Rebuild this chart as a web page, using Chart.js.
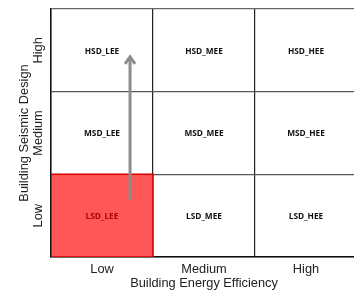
<!DOCTYPE html>
<html>
<head>
<meta charset="utf-8">
<script src="https://cdn.jsdelivr.net/npm/chart.js@4/dist/chart.umd.min.js"></script>
<style>
  html, body { margin: 0; padding: 0; background: #fff; overflow: hidden; width: 354px; height: 294px; }
  #wrap { width: 354px; height: 294px; overflow: hidden; position: relative; }
  #grid { display: block; position: absolute; left: 0; top: 0; }
</style>
</head>
<body>
<div id="wrap"><canvas id="grid" width="362" height="294"></canvas></div>
<script>
// categories on both axes
const energyLevels = ['Low', 'Medium', 'High'];
const seismicLevels = ['Low', 'Medium', 'High'];
const xTitle = 'Building Energy Efficiency';
const yTitle = 'Building Seismic Design';
// cell labels, bottom row first
const cellLabels = [
  ['LSD_LEE', 'LSD_MEE', 'LSD_HEE'],
  ['MSD_LEE', 'MSD_MEE', 'MSD_HEE'],
  ['HSD_LEE', 'HSD_MEE', 'HSD_HEE']
];
// highlighted cell (col, row)
const highlightCell = [0, 0];
// arrow in data units
const arrowX = [0.775, 0.775];
const arrowY = [0.69, 2.42];
const headX = [0.726, 0.775, 0.824];
const headY = [2.335, 2.42, 2.335];

const tickPos = [0, 0.5, 1, 1.5, 2, 2.5, 3];
const isLine = v => Number.isInteger(v);
const axisFont = '12.8px "Liberation Sans", Arial, sans-serif';

const [hc, hr] = highlightCell;
const cellShape = [
  { x: hc, y: hr }, { x: hc, y: hr + 1 }, { x: hc + 1, y: hr + 1 }, { x: hc + 1, y: hr }, { x: hc, y: hr }
];

// cell text + rotated y axis labels
const cellText = {
  id: 'cellText',
  afterDatasetsDraw(chart) {
    const { ctx, scales: { x, y } } = chart;
    ctx.save();
    ctx.textAlign = 'center';
    ctx.textBaseline = 'middle';
    ctx.font = 'bold 8.3px "Open Sans", sans-serif';
    cellLabels.forEach((row, r) => {
      row.forEach((txt, c) => {
        ctx.fillStyle = (c === hc && r === hr) ? '#b00000' : '#111';
        ctx.fillText(txt, x.getPixelForValue(c + 0.5), y.getPixelForValue(r + 0.5) + 1);
      });
    });
    ctx.restore();
  },
  afterDraw(chart) {
    const { ctx, scales: { y } } = chart;
    ctx.save();
    ctx.fillStyle = '#222';
    ctx.font = axisFont;
    ctx.textAlign = 'center';
    ctx.textBaseline = 'middle';
    seismicLevels.forEach((lab, i) => {
      ctx.save();
      ctx.translate(38, y.getPixelForValue(i + 0.5));
      ctx.rotate(-Math.PI / 2);
      ctx.fillText(lab, 0, 0);
      ctx.restore();
    });
    ctx.translate(24, y.getPixelForValue(1.5));
    ctx.rotate(-Math.PI / 2);
    ctx.fillText(yTitle, 0, 0);
    ctx.restore();
  }
};

new Chart(document.getElementById('grid'), {
  type: 'scatter',
  data: {
    datasets: [
      {
        data: cellShape, showLine: true, fill: 'shape',
        backgroundColor: 'rgba(255,78,78,0.95)', borderColor: '#d40000', borderWidth: 1.5,
        pointRadius: 0, order: 3
      },
      {
        data: arrowX.map((v, i) => ({ x: v, y: arrowY[i] })), showLine: true,
        borderColor: '#8c8c8c', borderWidth: 3, pointRadius: 0, order: 1
      },
      {
        data: headX.map((v, i) => ({ x: v, y: headY[i] })), showLine: true,
        borderColor: '#8c8c8c', borderWidth: 3, pointRadius: 0, order: 1,
        borderCapStyle: 'butt', borderJoinStyle: 'miter'
      }
    ]
  },
  options: {
    responsive: false,
    animation: false,
    layout: { padding: { left: 0, right: 5, top: 9, bottom: 0 } },
    plugins: { legend: { display: false }, tooltip: { enabled: false } },
    scales: {
      x: {
        type: 'linear', min: 0, max: 3,
        afterBuildTicks: s => { s.ticks = tickPos.map(v => ({ value: v })); },
        afterFit: s => { s.height = 37; },
        ticks: {
          autoSkip: false, maxRotation: 0, padding: 5,
          color: '#222', font: { family: 'Liberation Sans, Arial', size: 12.8 },
          callback: v => isLine(v) ? '' : energyLevels[Math.floor(v)]
        },
        grid: {
          color: c => isLine(c.tick.value) ? '#222' : 'rgba(0,0,0,0)',
          lineWidth: 1.2, tickLength: 0, drawTicks: false
        },
        border: { color: '#111', width: 1.5 },
        title: {
          display: true, text: xTitle, color: '#222',
          font: { family: 'Liberation Sans, Arial', size: 12.8 }, padding: { top: 0, bottom: 3 }
        }
      },
      y: {
        type: 'linear', min: 0, max: 3,
        afterBuildTicks: s => { s.ticks = tickPos.map(v => ({ value: v })); },
        afterFit: s => { s.width = 51; },
        ticks: { display: false },
        grid: {
          color: c => c.tick.value === 3 ? '#666' : (isLine(c.tick.value) ? '#555' : 'rgba(0,0,0,0)'),
          lineWidth: 1.2, drawTicks: false
        },
        border: { color: '#111', width: 1.5 },
        title: { display: false }
      }
    }
  },
  plugins: [cellText]
});
</script>
</body>
</html>
